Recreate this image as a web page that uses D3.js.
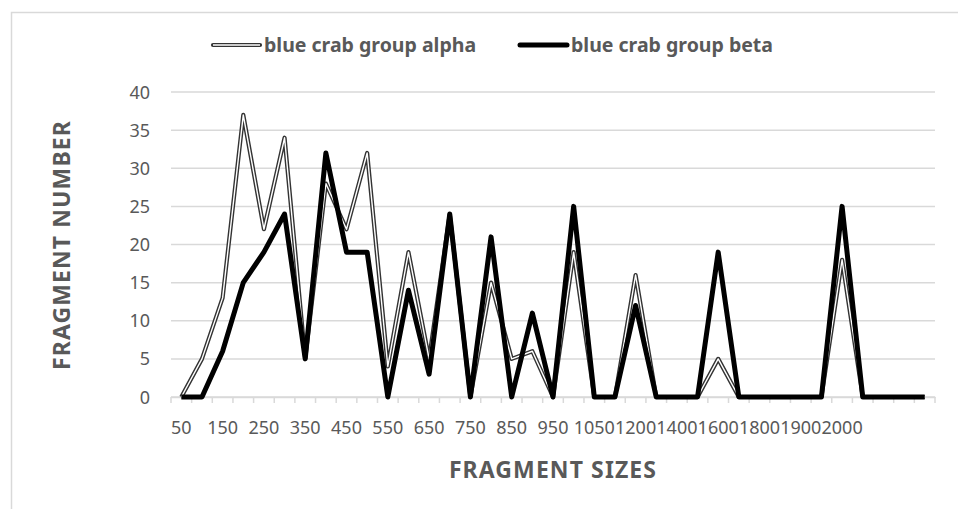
<!DOCTYPE html>
<html>
<head>
<meta charset="utf-8">
<script src="https://cdn.jsdelivr.net/npm/d3@7"></script>
<style>
  body { margin: 0; background: #fff; }
  text { font-family: "Noto Sans", "Open Sans", sans-serif; fill: #595959; }
</style>
</head>
<body>
<div id="chart"></div>
<script>
// fragment size categories (last four have no label in the source)
const sizes = ["50", "100", "150", "200", "250", "300", "350", "400", "450", "500",
    "550", "600", "650", "700", "750", "800", "850", "900", "950", "1000",
    "1050", "1100", "1200", "1300", "1400", "1500", "1600", "1700", "1800", "1850",
    "1900", "1950", "2000", "", "", "", ""];

const alpha = [0, 5, 13, 37, 22, 34, 5, 28, 22, 32,
    4, 19, 5, 24, 0, 15, 5, 6, 0, 19,
    0, 0, 16, 0, 0, 0, 5, 0, 0, 0,
    0, 0, 18, 0, 0, 0, 0];

const beta = [0, 0, 6, 15, 19, 24, 5, 32, 19, 19,
    0, 14, 3, 24, 0, 21, 0, 11, 0, 25,
    0, 0, 12, 0, 0, 0, 19, 0, 0, 0,
    0, 0, 25, 0, 0, 0, 0];

const yTicks = [0, 5, 10, 15, 20, 25, 30, 35, 40];
const seriesNames = ["blue crab group alpha", "blue crab group beta"];

const width = 958;
const height = 509;
const grid = "#d9d9d9";

const svg = d3.select("#chart")
    .append("svg")
    .attr("width", width)
    .attr("height", height);

// outer chart border (cut off at right and bottom like the source)
svg.append("rect")
    .attr("x", 11.5).attr("y", 12.5)
    .attr("width", 960).attr("height", 510)
    .attr("fill", "none")
    .attr("stroke", grid)
    .attr("stroke-width", 1.5);

const x = d3.scaleBand()
    .domain(d3.range(sizes.length))
    .range([171, 935]);

const y = d3.scaleLinear()
    .domain([0, 40])
    .range([397, 92]);

// gridlines
svg.append("g")
    .selectAll("line")
    .data(yTicks)
    .enter()
    .append("line")
    .attr("x1", 171).attr("x2", 935)
    .attr("y1", d => y(d)).attr("y2", d => y(d))
    .attr("stroke", grid)
    .attr("stroke-width", 1.5);

// y tick labels
svg.append("g")
    .selectAll("text")
    .data(yTicks)
    .enter()
    .append("text")
    .attr("x", 150)
    .attr("y", d => y(d) + 6.5)
    .attr("text-anchor", "end")
    .attr("font-size", 18)
    .text(d => d);

// x axis: boundary ticks, every other label
const xAxis = d3.axisBottom(x)
    .tickSize(0)
    .tickFormat(i => (i % 2 === 0 ? sizes[i] : ""));

const gx = svg.append("g")
    .attr("transform", "translate(0," + y(0) + ")")
    .call(xAxis);
gx.select(".domain").attr("stroke", grid).attr("stroke-width", 1.5);
gx.selectAll("text")
    .attr("font-size", 18)
    .attr("fill", "#595959")
    .attr("y", 37)
    .attr("dy", 0)
    .style("font-family", "'Noto Sans', sans-serif");

gx.selectAll(".bound")
    .data(d3.range(sizes.length + 1))
    .enter()
    .append("line")
    .attr("class", "bound")
    .attr("x1", i => 171 + i * x.step())
    .attr("x2", i => 171 + i * x.step())
    .attr("y1", 0).attr("y2", 6)
    .attr("stroke", grid)
    .attr("stroke-width", 1.5);

const line = d3.line()
    .x((d, i) => x(i) + x.bandwidth() / 2)
    .y(d => y(d));

// alpha: double line (dark outline, white core)
svg.append("path")
    .datum(alpha)
    .attr("d", line)
    .attr("fill", "none")
    .attr("stroke", "#333")
    .attr("stroke-width", 4.2)
    .attr("stroke-linejoin", "round");
svg.append("path")
    .datum(alpha)
    .attr("d", line)
    .attr("fill", "none")
    .attr("stroke", "#fff")
    .attr("stroke-width", 1.4)
    .attr("stroke-linejoin", "round");

// beta: heavy black line
svg.append("path")
    .datum(beta)
    .attr("d", line)
    .attr("fill", "none")
    .attr("stroke", "#000")
    .attr("stroke-width", 5)
    .attr("stroke-linejoin", "round");

// legend
const legend = [
    { name: seriesNames[0], x: 213 },
    { name: seriesNames[1], x: 520 }
];
const lg = svg.append("g")
    .selectAll("g")
    .data(legend)
    .enter()
    .append("g");

lg.append("line")
    .attr("x1", d => d.x).attr("x2", d => d.x + 47)
    .attr("y1", 45).attr("y2", 45)
    .attr("stroke", (d, i) => (i === 0 ? "#333" : "#000"))
    .attr("stroke-width", (d, i) => (i === 0 ? 4.2 : 5))
    .attr("stroke-linecap", "round");
lg.filter((d, i) => i === 0)
    .append("line")
    .attr("x1", d => d.x).attr("x2", d => d.x + 47)
    .attr("y1", 45).attr("y2", 45)
    .attr("stroke", "#fff")
    .attr("stroke-width", 1.4);
lg.append("text")
    .attr("x", d => d.x + 51)
    .attr("y", 51.5)
    .attr("font-size", 19.5)
    .attr("font-weight", "bold")
    .text(d => d.name);

// axis titles
svg.append("text")
    .attr("x", 553)
    .attr("y", 478)
    .attr("text-anchor", "middle")
    .attr("font-size", 23)
    .attr("letter-spacing", 1.1)
    .attr("font-weight", "bold")
    .text("FRAGMENT SIZES");

svg.append("text")
    .attr("transform", "translate(70,245) rotate(-90)")
    .attr("text-anchor", "middle")
    .attr("font-size", 23)
    .attr("letter-spacing", 1.1)
    .attr("font-weight", "bold")
    .text("FRAGMENT NUMBER");
</script>
</body>
</html>
